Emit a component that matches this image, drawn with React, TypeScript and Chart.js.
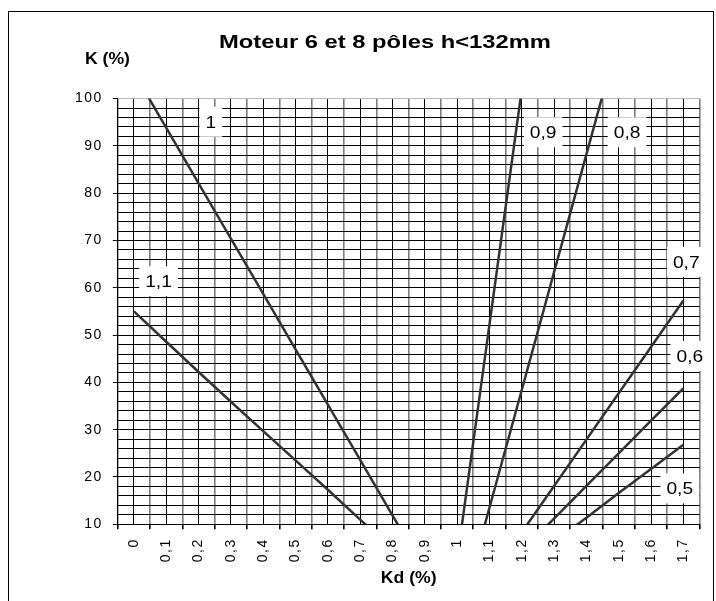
import React, { useEffect, useRef } from "react";
import { Chart, registerables } from "chart.js";

Chart.register(...registerables);

// Kd (%) categories along the horizontal axis
const KD = [0, 0.1, 0.2, 0.3, 0.4, 0.5, 0.6, 0.7, 0.8, 0.9, 1.0, 1.1, 1.2, 1.3, 1.4, 1.5, 1.6, 1.7];
const KD_LABELS = ["0", "0,1", "0,2", "0,3", "0,4", "0,5", "0,6", "0,7", "0,8", "0,9", "1", "1,1", "1,2", "1,3", "1,4", "1,5", "1,6", "1,7"];

// K (%) curves, one value per Kd category (null = no point)
const K_1_1 = [55, 48.6, 42.2, 35.9, 29.7, 23.5, 17.3, 11.0, 4.7, null, null, null, null, null, null, null, null, null];
const K_1 = [105.5, 93.8, 82.1, 70.4, 58.7, 47.0, 35.3, 23.6, 11.9, 0.2, null, null, null, null, null, null, null, null];
const K_0_9 = [null, null, null, null, null, null, null, null, null, null, 2.5, 52.2, 101.9, null, null, null, null, null];
const K_0_8 = [null, null, null, null, null, null, null, null, null, null, -11.4, 13.5, 38.4, 63.3, 88.2, 113.1, null, null];
const K_0_7 = [null, null, null, null, null, null, null, null, null, null, null, null, 8.3, 18.1, 27.9, 37.7, 47.5, 57.3];
const K_0_6 = [null, null, null, null, null, null, null, null, null, null, null, null, 4.4, 11.2, 18.1, 25.0, 31.9, 38.75];
const K_0_5 = [null, null, null, null, null, null, null, null, null, null, null, null, null, 6.3, 11.4, 16.6, 21.7, 26.8];

const SERIES_NAMES = ["1,1", "1", "0,9", "0,8", "0,7", "0,6", "0,5"];
const SERIES_VALUES = [K_1_1, K_1, K_0_9, K_0_8, K_0_7, K_0_6, K_0_5];

// Curve tags, anchored in data units (Kd, K)
const TAG_TEXT = ["1,1", "1", "0,9", "0,8", "0,7", "0,6", "0,5"];
const TAG_KD = [0.076, 0.238, 1.266, 1.526, 1.709, 1.72, 1.689];
const TAG_K = [61.4, 95.1, 92.9, 92.9, 65.5, 45.6, 17.6];

const Y_MIN = 10;
const Y_MAX = 100;

const FONT = "'Liberation Sans', Arial, sans-serif";

function stretchedText(
  ctx: CanvasRenderingContext2D,
  text: string,
  x: number,
  y: number,
  font: string,
  sx: number,
  align: CanvasTextAlign
) {
  ctx.save();
  ctx.font = font;
  ctx.fillStyle = "#000";
  ctx.textAlign = align;
  ctx.textBaseline = "alphabetic";
  ctx.scale(sx, 1);
  ctx.fillText(text, x / sx, y);
  ctx.restore();
}

const textPlugin = {
  id: "chartTexts",
  beforeDraw(chart: any) {
    chart.ctx.letterSpacing = "1.5px";
  },
  afterDatasetsDraw(chart: any) {
    const ctx: CanvasRenderingContext2D = chart.ctx;
    const xs = chart.scales.x;
    const ys = chart.scales.y;
    ctx.save();
    ctx.letterSpacing = "0px";
    const font = `16px ${FONT}`;
    const sx = 1.2;
    TAG_TEXT.forEach((t, i) => {
      const px = xs.getPixelForValue(TAG_KD[i]);
      const py = ys.getPixelForValue(TAG_K[i]);
      ctx.font = font;
      const w = ctx.measureText(t).width * sx;
      ctx.fillStyle = "#fff";
      ctx.fillRect(px - w / 2 - 6, py - 15, w + 12, 30);
      stretchedText(ctx, t, px, py + 6, font, sx, "center");
    });
    ctx.restore();
  },
  afterDraw(chart: any) {
    const ctx: CanvasRenderingContext2D = chart.ctx;
    ctx.save();
    ctx.letterSpacing = "0px";
    stretchedText(ctx, "Moteur 6 et 8 pôles h<132mm", 376, 36.3, `bold 19px ${FONT}`, 1.25, "center");
    stretchedText(ctx, "K (%)", 76, 52.3, `bold 16px ${FONT}`, 1.1, "left");
    stretchedText(ctx, "Kd (%)", 399.7, 571.3, `bold 16px ${FONT}`, 1.1, "center");
    ctx.restore();
  },
};

export default function App() {
  const canvasRef = useRef<HTMLCanvasElement | null>(null);

  useEffect(() => {
    if (!canvasRef.current) return;
    const datasets = SERIES_VALUES.map((vals, s) => ({
      label: SERIES_NAMES[s],
      data: vals
        .map((v, i) => (v === null ? null : { x: KD[i], y: v }))
        .filter((p) => p !== null),
      borderColor: "#333333",
      borderWidth: 2.5,
      pointRadius: 0,
      fill: false,
      tension: 0,
      clip: 0,
    }));

    const chart = new Chart(canvasRef.current, {
      type: "line",
      data: { datasets: datasets as any },
      plugins: [textPlugin],
      options: {
        animation: false,
        responsive: false,
        events: [],
        layout: { padding: { left: 0, right: 13.5, top: 86.6, bottom: 0 } },
        plugins: {
          legend: { display: false },
          tooltip: { enabled: false },
          title: { display: false },
        },
        scales: {
          x: {
            type: "linear",
            min: -0.05,
            max: 1.75,
            afterFit: (scale: any) => {
              scale.height = 86.7;
              scale.paddingLeft = 0;
              scale.paddingRight = 0;
            },
            border: { display: true, color: "#000", width: 1 },
            grid: {
              // category boundaries are softer grey, category centres black
              color: (c: any) => (c.index % 2 === 0 ? "#7d7d7d" : "#000"),
              lineWidth: (c: any) => (c.index % 2 === 0 ? 1.6 : 1),
              drawTicks: true,
              tickLength: 5,
              tickColor: (c: any) => (c.index % 2 === 0 ? "#000" : "rgba(0,0,0,0)"),
            },
            ticks: {
              stepSize: 0.05,
              maxTicksLimit: 1000,
              autoSkip: false,
              minRotation: 90,
              maxRotation: 90,
              padding: 9,
              color: "#000",
              font: { family: FONT, size: 14 },
              callback: (_v: any, i: number) => (i % 2 === 1 ? KD_LABELS[(i - 1) / 2] : ""),
            },
          },
          y: {
            type: "linear",
            min: Y_MIN,
            max: Y_MAX,
            afterFit: (scale: any) => {
              scale.width = 108.8;
            },
            border: { display: true, color: "#000", width: 1 },
            grid: {
              color: (c: any) => (c.tick && c.tick.value === Y_MAX ? "#bbb" : "#000"),
              lineWidth: 1,
              drawTicks: true,
              tickLength: 5,
              tickColor: (c: any) => (c.tick && c.tick.value % 10 === 0 ? "#000" : "rgba(0,0,0,0)"),
            },
            ticks: {
              stepSize: 2,
              maxTicksLimit: 1000,
              autoSkip: false,
              padding: 10,
              color: "#000",
              font: { family: FONT, size: 14 },
              callback: (v: any) => (Number(v) % 10 === 0 ? String(v) : ""),
            },
          },
        },
      },
    });
    return () => chart.destroy();
  }, []);

  return (
    <div
      style={{
        position: "fixed",
        left: 8,
        top: 11,
        width: 704,
        height: 599,
        border: "1px solid #000",
        background: "#fff",
      }}
    >
      <canvas ref={canvasRef} width={704} height={599} style={{ display: "block" }} />
    </div>
  );
}
